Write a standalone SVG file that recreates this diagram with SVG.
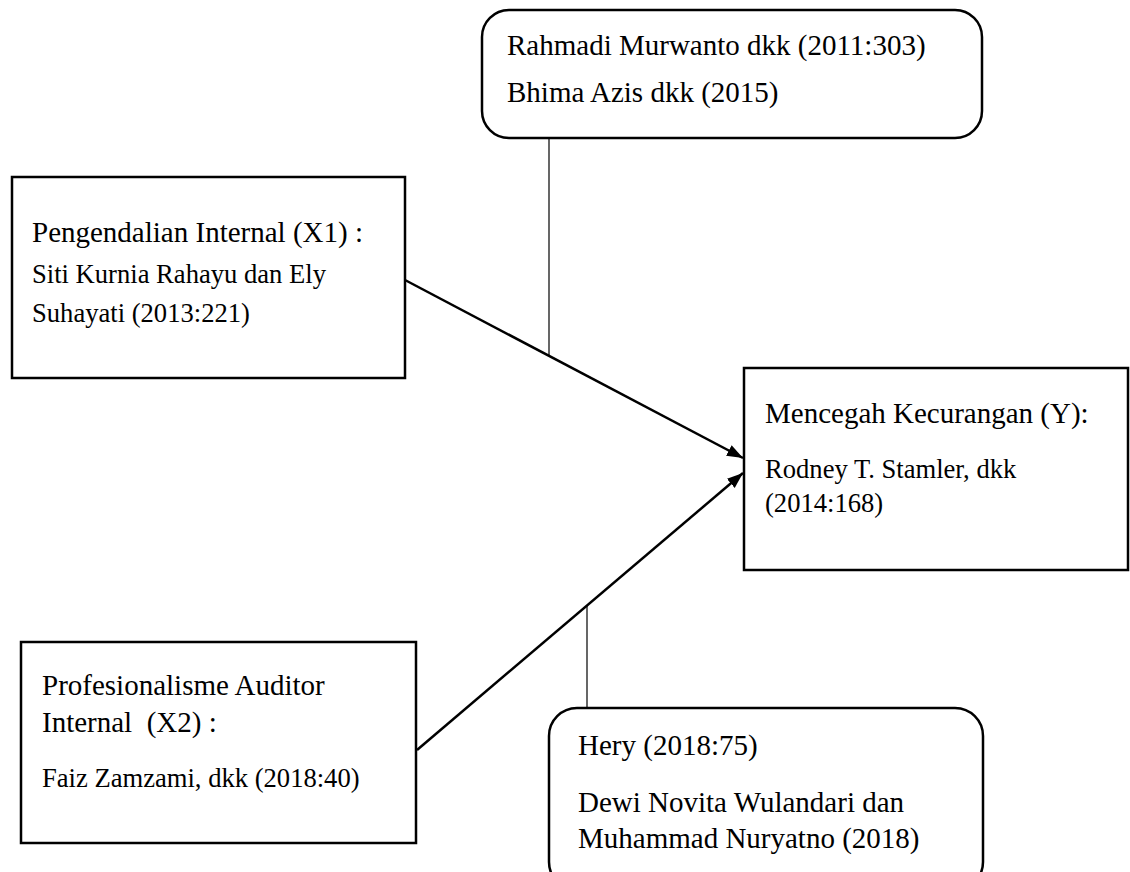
<svg xmlns="http://www.w3.org/2000/svg" width="1130" height="872" viewBox="0 0 1130 872">
<style>
.box{fill:#fff;stroke:#000;stroke-width:2.5}
.t1{font-family:"Liberation Serif","Times New Roman",serif;font-size:29px;fill:#000;white-space:pre}
.t2{font-family:"Liberation Serif","Times New Roman",serif;font-size:26.6px;fill:#000;white-space:pre}
.arrow{stroke:#000;stroke-width:2.5;fill:none;marker-end:url(#ah)}
.thin{stroke:#000;stroke-width:1.2;fill:none}
</style>
<defs>
<marker id="ah" markerUnits="userSpaceOnUse" markerWidth="18" markerHeight="14" refX="16" refY="6" orient="auto" viewBox="0 0 18 12">
<path d="M0,0 L16,6 L0,12 z" fill="#000"/>
</marker>
</defs>
<rect width="1130" height="872" fill="#fff"/>
<g id="connectors">
<line class="thin" x1="549" y1="138" x2="549" y2="356"/>
<line class="thin" x1="587" y1="606" x2="587" y2="708"/>
<line class="arrow" x1="405" y1="280" x2="743" y2="458"/>
<line class="arrow" x1="417" y1="750" x2="743" y2="473"/>
</g>
<g id="node-top">
<rect class="box" x="482" y="10" width="500" height="128" rx="27"/>
<text class="t1" x="507" y="55">Rahmadi Murwanto dkk (2011:303)</text>
<text class="t1" x="507" y="102">Bhima Azis dkk (2015)</text>
</g>
<g id="node-x1">
<rect class="box" x="12" y="177" width="393" height="201"/>
<text class="t1" x="32" y="242">Pengendalian Internal (X1) :</text>
<text class="t2" x="32" y="283">Siti Kurnia Rahayu dan Ely</text>
<text class="t2" x="32" y="322">Suhayati (2013:221)</text>
</g>
<g id="node-y">
<rect class="box" x="744" y="368" width="384" height="202"/>
<text class="t1" x="765" y="423">Mencegah Kecurangan (Y):</text>
<text class="t2" x="765" y="478">Rodney T. Stamler, dkk</text>
<text class="t2" x="765" y="512">(2014:168)</text>
</g>
<g id="node-x2">
<rect class="box" x="21" y="642" width="395" height="201"/>
<text class="t1" x="42" y="695">Profesionalisme Auditor</text>
<text class="t1" x="42" y="732">Internal  (X2) :</text>
<text class="t2" x="42" y="787">Faiz Zamzami, dkk (2018:40)</text>
</g>
<g id="node-bottom">
<rect class="box" x="549" y="708" width="434" height="182" rx="28"/>
<text class="t1" x="578" y="755">Hery (2018:75)</text>
<text class="t1" x="578" y="812">Dewi Novita Wulandari dan</text>
<text class="t1" x="578" y="848">Muhammad Nuryatno (2018)</text>
</g>
</svg>
